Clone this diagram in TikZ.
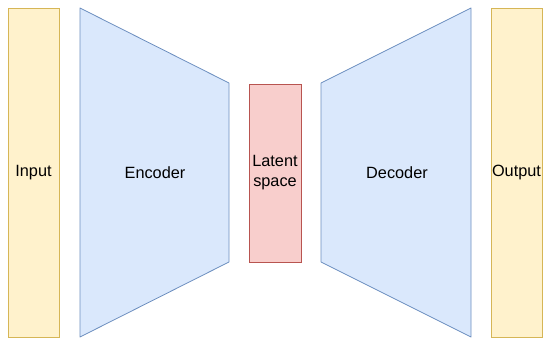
\documentclass[tikz,border=0pt]{standalone}
\usepackage{fontspec}
\setmainfont{Liberation Sans}
\usetikzlibrary{positioning}
\definecolor{ioFill}{HTML}{FFF2CC}
\definecolor{ioLine}{HTML}{D6B656}
\definecolor{codFill}{HTML}{DAE8FC}
\definecolor{codLine}{HTML}{6C8EBF}
\definecolor{latFill}{HTML}{F8CECC}
\definecolor{latLine}{HTML}{B85450}

\begin{document}
\begin{tikzpicture}[
    x=1pt, y=-1pt,
    iobox/.style={rectangle, draw=ioLine, fill=ioFill, line width=0.8pt,
                  minimum width=51pt, minimum height=329pt, inner sep=0pt,
                  font=\fontsize{16.3}{20}\selectfont, align=center},
    latbox/.style={rectangle, draw=latLine, fill=latFill, line width=0.8pt,
                   minimum width=52pt, minimum height=178pt, inner sep=0pt,
                   font=\fontsize{16.3}{20}\selectfont, align=center},
    trap/.style={draw=codLine, fill=codFill, line width=0.8pt, line join=round},
    lbl/.style={font=\fontsize{16.3}{20}\selectfont, align=center}
]
\useasboundingbox (0,0) rectangle (550,345);

\node[iobox]  (input)  at (33.5,172.5)  {Input};
\node[latbox] (latent) at (275,173)     {Latent\\space};
\node[iobox]  (output) at (516.5,172.5) {Output};

% encoder and decoder
\draw[trap] (80,8) -- (229,83) -- (229,262) -- (80,337) -- cycle;
\draw[trap] (321,83) -- (471,8) -- (471,337) -- (321,262) -- cycle;
\node[lbl] (enc) at (155,172.5) {Encoder};
\node[lbl] (dec) at (397,172.5) {Decoder};
\end{tikzpicture}
\end{document}
